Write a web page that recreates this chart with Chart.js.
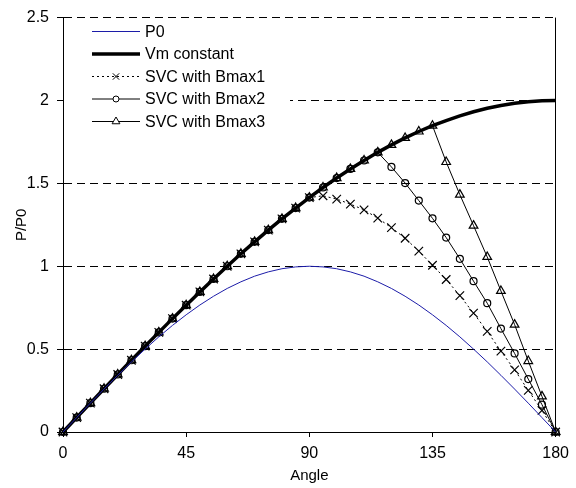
<!DOCTYPE html>
<html>
<head>
<meta charset="utf-8">
<script src="https://cdn.jsdelivr.net/npm/chart.js@4/dist/chart.umd.min.js"></script>
<style>
html,body{margin:0;padding:0;background:#fff;}
canvas{display:block;}
</style>
</head>
<body>
<canvas id="c" width="576" height="488"></canvas>
<script>
// Angle categories (degrees)
const angles = [0,5,10,15,20,25,30,35,40,45,50,55,60,65,70,75,80,85,90,95,100,105,110,115,120,125,130,135,140,145,150,155,160,165,170,175,180];
const xTickLabels = ['0','45','90','135','180'];
const yTickLabels = ['0','0.5','1','1.5','2','2.5'];
const seriesNames = ['P0','Vm constant','SVC with Bmax1','SVC with Bmax2','SVC with Bmax3'];

const p0 = [0,0.087,0.174,0.259,0.342,0.423,0.5,0.574,0.643,0.707,0.766,0.819,0.866,0.906,0.94,0.966,0.985,0.996,1,0.996,0.985,0.966,0.94,0.906,0.866,0.819,0.766,0.707,0.643,0.574,0.5,0.423,0.342,0.259,0.174,0.087,0];
const vmConst = [0,0.087,0.174,0.261,0.347,0.433,0.518,0.601,0.684,0.765,0.845,0.923,1.0,1.075,1.147,1.218,1.286,1.351,1.414,1.475,1.532,1.587,1.638,1.687,1.732,1.774,1.813,1.848,1.879,1.907,1.932,1.953,1.97,1.983,1.992,1.998,2.0];
const bmax1 = [0,0.087,0.174,0.261,0.347,0.433,0.518,0.601,0.684,0.765,0.845,0.923,1.0,1.075,1.147,1.218,1.286,1.351,1.414,1.425,1.405,1.375,1.34,1.29,1.233,1.169,1.091,1.006,0.92,0.823,0.717,0.607,0.488,0.375,0.251,0.13,0];
const bmax2 = [0,0.087,0.174,0.261,0.347,0.433,0.518,0.601,0.684,0.765,0.845,0.923,1.0,1.075,1.147,1.218,1.286,1.351,1.414,1.475,1.532,1.587,1.638,1.687,1.599,1.502,1.396,1.289,1.173,1.045,0.91,0.777,0.624,0.474,0.319,0.165,0];
const bmax3 = [0,0.087,0.174,0.261,0.347,0.433,0.518,0.601,0.684,0.765,0.845,0.923,1.0,1.075,1.147,1.218,1.286,1.351,1.414,1.475,1.532,1.587,1.638,1.687,1.732,1.774,1.813,1.848,1.629,1.432,1.245,1.056,0.851,0.648,0.428,0.215,0];

const FONT = "'Liberation Sans', Arial, sans-serif";
const toXY = vals => angles.map((a,i) => ({x:a, y:vals[i]}));

const datasets = [
  {label:seriesNames[0], data:toXY(p0), borderColor:'#1c1ca8', borderWidth:1, pointRadius:0, pointStyle:false},
  {label:seriesNames[1], data:toXY(vmConst), borderColor:'#000', borderWidth:3.5, pointRadius:0, pointStyle:false},
  {label:seriesNames[2], data:toXY(bmax1), borderColor:'#000', borderWidth:1, borderDash:[2,3], pointStyle:'crossRot', pointRadius:6, pointBorderColor:'#000', pointBorderWidth:1.2},
  {label:seriesNames[3], data:toXY(bmax2), borderColor:'#000', borderWidth:1, pointStyle:'circle', pointRadius:3.5, pointBorderColor:'#000', pointBackgroundColor:'rgba(0,0,0,0)', pointBorderWidth:1.2},
  {label:seriesNames[4], data:toXY(bmax3), borderColor:'#000', borderWidth:1, pointStyle:'triangle', pointRadius:5, pointBorderColor:'#000', pointBackgroundColor:'rgba(0,0,0,0)', pointBorderWidth:1.2}
];
datasets.forEach(d => { d.tension = 0; d.fill = false; d.clip = false; d.pointHoverRadius = d.pointRadius; });

const legendPlugin = {
  id:'insideLegend',
  afterDatasetsDraw(chart){
    const ctx = chart.ctx;
    const x0 = 92, x1 = 140, tx = 145, y0 = 31.5, step = 22.5;
    ctx.save();
    ctx.fillStyle = '#fff';
    ctx.fillRect(chart.chartArea.left + 1, 18, 226, 116);
    ctx.restore();
    chart.data.datasets.forEach((ds,i) => {
      const y = y0 + i*step;
      ctx.save();
      ctx.strokeStyle = ds.borderColor;
      ctx.lineWidth = ds.borderWidth;
      ctx.setLineDash(ds.borderDash || []);
      ctx.beginPath(); ctx.moveTo(x0,y); ctx.lineTo(x1,y); ctx.stroke();
      ctx.setLineDash([]);
      if (ds.pointStyle && ds.pointRadius > 0 && Chart.helpers && Chart.helpers.drawPoint) {
        ctx.strokeStyle = '#000'; ctx.fillStyle = '#fff'; ctx.lineWidth = 1;
        const r = ds.pointStyle === 'crossRot' ? 4.5 : ds.pointRadius - 0.5;
        Chart.helpers.drawPoint(ctx, {pointStyle:ds.pointStyle, radius:r, borderWidth:1, rotation:0}, (x0+x1)/2, y);
      }
      ctx.fillStyle = '#000';
      ctx.font = '16px ' + FONT;
      ctx.textBaseline = 'middle';
      ctx.textAlign = 'left';
      ctx.fillText(ds.label, tx, y + 1);
      ctx.restore();
    });
  }
};

new Chart(document.getElementById('c'), {
  type:'line',
  data:{datasets},
  options:{
    responsive:false,
    animation:false,
    events:[],
    layout:{padding:{top:14, right:14, left:0, bottom:0}},
    plugins:{legend:{display:false}, tooltip:{enabled:false}},
    scales:{
      x:{
        type:'linear', min:0, max:180,
        afterFit(s){ s.height = 56; },
        afterBuildTicks(s){ s.ticks = xTickLabels.map(t => ({value:Number(t)})); },
        ticks:{color:'#000', font:{family:FONT, size:16}, padding:7, maxRotation:0, autoSkip:false,
               callback:(v) => xTickLabels[xTickLabels.indexOf(String(v))]},
        grid:{color:(c) => (c.tick && c.tick.value === 180) ? '#000' : 'rgba(0,0,0,0)', lineWidth:1,
              tickColor:'#000', tickLength:5, drawTicks:true},
        border:{display:true, color:'#000', width:1},
        title:{display:true, text:'Angle', color:'#000', font:{family:FONT, size:15}, padding:{top:0, bottom:3}}
      },
      y:{
        type:'linear', min:0, max:2.5,
        afterFit(s){ s.width = 63; },
        afterBuildTicks(s){ s.ticks = yTickLabels.map(t => ({value:Number(t)})); },
        ticks:{color:'#000', font:{family:FONT, size:16}, padding:8,
               callback:(v) => yTickLabels[yTickLabels.indexOf(String(v))]},
        grid:{color:'#000', lineWidth:1, tickColor:'#000', tickLength:6, drawTicks:true},
        border:{display:true, color:'#000', width:1, dash:[8,5]},
        title:{display:true, text:'P/P0', color:'#000', font:{family:FONT, size:15}, padding:{top:13, bottom:0}}
      }
    }
  },
  plugins:[legendPlugin]
});
</script>
</body>
</html>
